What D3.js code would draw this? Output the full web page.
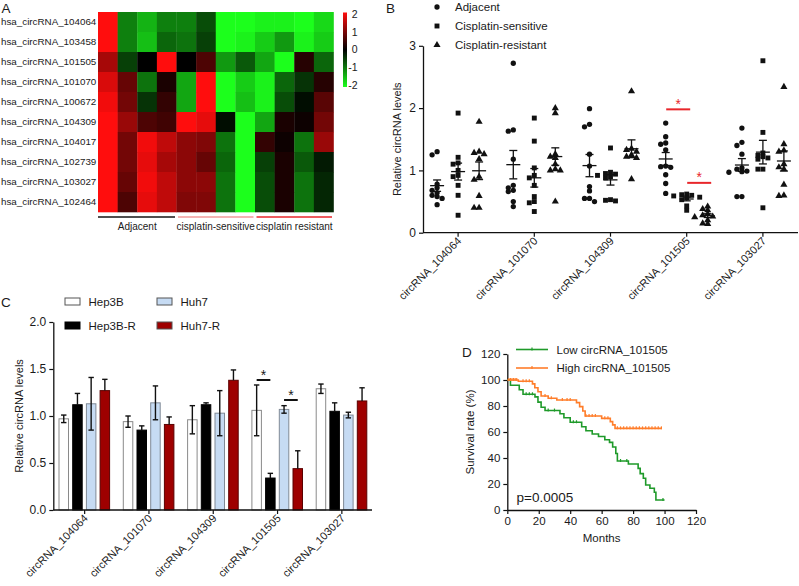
<!DOCTYPE html>
<html><head><meta charset="utf-8">
<script src="https://cdn.jsdelivr.net/npm/d3@7"></script>
<style>
body{margin:0;background:#fff}
svg{display:block}
text{font-family:"Liberation Sans",Arial,Helvetica,sans-serif;fill:#1a1a1a}
</style>
</head><body>
<svg id="c" width="799" height="586"></svg>
<script>
// ---------------- DATA ----------------
// Panel A heatmap
const heatRows = ["hsa_circRNA_104064","hsa_circRNA_103458","hsa_circRNA_101505","hsa_circRNA_101070","hsa_circRNA_100672","hsa_circRNA_104309","hsa_circRNA_104017","hsa_circRNA_102739","hsa_circRNA_103027","hsa_circRNA_102464"];
const heatGroups = ["Adjacent","cisplatin-sensitive","cisplatin resistant"];
const heatGroupSizes = [4,4,4];
const heatValues = [
  [2, -1.0, -1.4, -1.0, -1.0, -0.6, -2, -2, -1.9, -1.9, -2, -1.7],
  [2, -1.0, -1.5, -0.8, -0.9, -0.5, -2, -1.9, -1.6, -1.2, -1.9, -1.6],
  [1.3, -0.5, 0, 2, 0, 0.6, -1.2, -0.7, -1.3, -2, 0.3, -0.8],
  [1.7, 0.8, -0.9, 0.2, -1.3, 2, -2, -1.6, -1.9, -0.8, -0.4, 0.3],
  [1.9, 0.9, -0.4, 0.4, -1.3, 2, -2, -1.5, -1.9, -0.6, -0.1, 0.7],
  [2, 1.2, 0.6, 0.5, 2, 1.8, -0.1, -2, -1.3, 0.2, 0.1, 0.9],
  [2, 0.9, 1.9, 1.5, 1.1, 1.0, -0.9, -2, 0.4, 0.1, -0.9, 1.2],
  [2, 0.9, 1.8, 1.3, 1.1, 0.8, -0.8, -2, -0.5, 0.2, -0.7, -0.2],
  [2, 0.8, 1.9, 1.5, 1.1, 1.1, -0.9, -2, -0.6, 0.2, -0.9, -0.3],
  [2, 0.6, 1.8, 1.5, 1.0, 1.0, -0.9, -2, -0.6, 0.2, -0.9, -0.3]
];
const heatLegendTicks = [2,1,0,-1,-2];

// Panel B scatter
const bGroups = ["circRNA_104064","circRNA_101070","circRNA_104309","circRNA_101505","circRNA_103027"];
const bSeries = ["Adjacent","Cisplatin-sensitive","Cisplatin-resistant"];
const bAdjacent = [
  [1.30, 1.25, 0.78, 0.72, 0.68, 0.64, 0.60, 0.58, 0.55, 0.45],
  [2.72, 1.65, 1.63, 1.18, 0.76, 0.72, 0.68, 0.66, 0.50, 0.42],
  [1.99, 1.74, 1.70, 1.26, 1.07, 0.74, 0.67, 0.55, 0.55, 0.50],
  [1.76, 1.54, 1.44, 1.42, 1.33, 1.07, 1.06, 1.05, 0.93, 0.79, 0.63],
  [1.68, 1.45, 1.40, 1.26, 1.04, 1.02, 0.99, 0.98, 0.97, 0.58, 0.58]
];
const bSensitive = [
  [1.92, 1.21, 1.12, 1.10, 1.00, 0.92, 0.90, 0.76, 0.60, 0.28],
  [1.84, 1.47, 1.04, 0.92, 0.88, 0.76, 0.58, 0.50, 0.48, 0.34],
  [1.36, 0.97, 0.95, 0.94, 0.92, 0.90, 0.88, 0.53, 0.52, 0.51],
  [0.62, 0.61, 0.60, 0.59, 0.57, 0.56, 0.53, 0.43, 0.36],
  [2.76, 1.61, 1.28, 1.24, 1.22, 1.20, 1.18, 1.02, 1.02, 0.40]
];
const bResistant = [
  [1.78, 1.30, 1.28, 1.26, 1.18, 0.90, 0.85, 0.59, 0.40, 0.40],
  [2.00, 1.92, 1.26, 1.22, 1.20, 1.10, 1.02, 1.00, 1.00, 0.50],
  [2.27, 1.35, 1.33, 1.30, 1.25, 1.22, 1.20, 0.86],
  [0.42, 0.38, 0.36, 0.30, 0.28, 0.26, 0.25, 0.20, 0.15, 0.14],
  [2.34, 1.42, 1.32, 1.30, 1.10, 1.05, 1.02, 0.77, 0.60, 0.59]
];
const bTicks = [0,1,2,3];
const bSig = [ {group:"circRNA_101505", a:0, b:1, y:1.98}, {group:"circRNA_101505", a:1, b:2, y:0.80} ];

// Panel C bars
const cGroups = ["circRNA_104064","circRNA_101070","circRNA_104309","circRNA_101505","circRNA_103027"];
const cSeries = ["Hep3B","Hep3B-R","Huh7","Huh7-R"];
const cHep3B     = [0.97, 0.94, 0.96, 1.06, 1.29];
const cHep3BErr  = [0.04, 0.06, 0.15, 0.27, 0.05];
const cHep3BR    = [1.12, 0.85, 1.12, 0.34, 1.05];
const cHep3BRErr = [0.12, 0.045, 0.02, 0.05, 0.09];
const cHuh7      = [1.13, 1.14, 1.03, 1.07, 1.01];
const cHuh7Err   = [0.28, 0.18, 0.24, 0.04, 0.03];
const cHuh7R     = [1.27, 0.91, 1.38, 0.44, 1.16];
const cHuh7RErr  = [0.12, 0.08, 0.11, 0.19, 0.14];
const cTicks = [0, 0.5, 1.0, 1.5, 2.0];
const cSig = [ {group:"circRNA_101505", a:0, b:1, y:1.383}, {group:"circRNA_101505", a:2, b:3, y:1.17} ];

// Panel D Kaplan-Meier
const kmSeries = ["Low circRNA_101505","High circRNA_101505"];
const lowTimes = [0, 2, 7.6, 10, 17.6, 19.5, 21.5, 24, 33.5, 36, 40, 47.3, 50, 54, 58, 62, 65, 67, 69, 70, 77, 83.2, 84.5, 86.5, 88, 90.7, 93.5, 94.5];
const lowSurv  = [100, 96, 92.5, 89, 87, 83, 79, 76.5, 74, 71, 67.5, 64, 61, 58.5, 56.5, 54, 52, 48.5, 43.5, 37.7, 35.4, 32, 28, 24.4, 19.2, 16.7, 13.6, 7.7];
const lowEnd = 100;
const lowCensor = [12, 14, 16, 26, 30, 42, 44, 72, 76, 99];
const highTimes = [0, 7, 16, 17.5, 19.5, 21.5, 26, 31.5, 44, 46, 48, 49.5, 60, 65.5, 67, 68.5];
const highSurv  = [100, 99, 97, 94, 91, 87.7, 86, 84.6, 82.6, 79.5, 76.2, 72.3, 70.5, 68, 65.5, 62.8];
const highEnd = 98;
const highCensor = [1, 2, 3, 4, 5, 6, 10, 12, 14, 24, 28, 35, 38, 40, 50, 52, 54, 56, 62, 64, 70, 72, 74, 76, 78, 80, 82, 84, 86, 88, 90, 92, 94, 96, 98];
const kmTicks = [0,20,40,60,80,100,120];
const pText = "p=0.0005";

// ---------------- DRAW ----------------
const svg = d3.select("#c");

function panelLabel(t, x, y){
  svg.append("text").attr("x", x).attr("y", y).attr("font-size", 13.5).text(t);
}

// ===== Panel A =====
panelLabel("A", 1.5, 13);
const hx = d3.scaleBand().domain(d3.range(heatValues[0].length)).range([98, 333.5]);
const hy = d3.scaleBand().domain(heatRows).range([12, 212]);
const hcolor = d3.scaleLinear().domain([-2,0,2]).range(["#1cff1c","#000000","#ff0d0d"]).clamp(true);
const gA = svg.append("g");
heatRows.forEach((r, ri) => {
  gA.selectAll(null).data(heatValues[ri]).enter().append("rect")
    .attr("x", (d,i) => hx(i)).attr("y", hy(r))
    .attr("width", hx.bandwidth()+0.3).attr("height", hy.bandwidth()+0.3)
    .attr("fill", d => hcolor(d));
});
gA.selectAll(null).data(heatRows).enter().append("text")
  .attr("x", 1).attr("y", d => hy(d) + hy.bandwidth()/2)
  .attr("dy", "0.35em").attr("text-anchor", "start").attr("font-size", 9.8).text(d => d);
// group lines
const groupColors = ["#151515", "#f29a9a", "#e8262b"];
let start = 0;
heatGroups.forEach((g, gi) => {
  const x0 = hx(start), x1 = hx(start + heatGroupSizes[gi] - 1) + hx.bandwidth();
  gA.append("line").attr("x1", x0 + (gi ? 1.5 : 0)).attr("x2", x1 - 1.5).attr("y1", 217).attr("y2", 217)
    .attr("stroke", groupColors[gi]).attr("stroke-width", 1.6);
  gA.append("text").attr("x", (x0 + x1)/2).attr("y", 230).attr("text-anchor", "middle")
    .attr("font-size", 10).text(g);
  start += heatGroupSizes[gi];
});
// color legend
const defs = svg.append("defs");
const grad = defs.append("linearGradient").attr("id", "hg").attr("x1", 0).attr("x2", 0).attr("y1", 0).attr("y2", 1);
grad.append("stop").attr("offset", "0%").attr("stop-color", hcolor(2));
grad.append("stop").attr("offset", "50%").attr("stop-color", hcolor(0));
grad.append("stop").attr("offset", "100%").attr("stop-color", hcolor(-2));
const ly = d3.scaleLinear().domain([2,-2]).range([14, 85.5]);
gA.append("rect").attr("x", 343).attr("y", 12.5).attr("width", 4).attr("height", 74.5).attr("fill", "url(#hg)");
gA.selectAll(null).data(heatLegendTicks).enter().append("text")
  .attr("x", 357.5).attr("y", d => ly(d)).attr("dy", "0.35em").attr("text-anchor", "end")
  .attr("font-size", 10.5).text(d => d);

// ===== Panel B =====
panelLabel("B", 386, 13);
const bx = d3.scaleBand().domain(bGroups).range([420, 801]);
const bs = d3.scalePoint().domain(d3.range(3)).range([-21, 21]);
const by = d3.scaleLinear().domain([0, 3]).range([232.7, 45.8]);
const gB = svg.append("g");
const yAxB = gB.append("g").attr("transform", "translate(423,0)")
  .call(d3.axisLeft(by).tickValues(bTicks).tickFormat(d3.format("d")).tickSize(4).tickSizeOuter(0));
function styleAxis(g, fs){
  g.selectAll("path").attr("stroke", "#111").attr("stroke-width", 1.3);
  g.selectAll("line").attr("stroke", "#111").attr("stroke-width", 1.2);
  g.selectAll("text").attr("font-size", fs || 11.5).attr("fill", "#1a1a1a")
    .attr("font-family", '"Liberation Sans",Arial,sans-serif');
}
styleAxis(yAxB, 12);
gB.append("line").attr("x1", 423).attr("x2", 798).attr("y1", by(0)).attr("y2", by(0)).attr("stroke", "#111").attr("stroke-width", 1.3);
bGroups.forEach(g => {
  const x = bx(g) + bx.bandwidth()/2;
  gB.append("line").attr("x1", x).attr("x2", x).attr("y1", by(0)).attr("y2", by(0)+4).attr("stroke", "#111").attr("stroke-width", 1.2);
  gB.append("text").attr("transform", `translate(${x+4},${by(0)+9}) rotate(-45)`)
    .attr("text-anchor", "end").attr("font-size", 11).text(g);
});
gB.append("text").attr("transform", `translate(401,${(by(0)+by(3))/2}) rotate(-90)`)
  .attr("text-anchor", "middle").attr("font-size", 11).text("Relative circRNA levels");

const symbols = [d3.symbolCircle, d3.symbolSquare, d3.symbolTriangle];
const symSizes = [22, 24, 22];
const bData = [bAdjacent, bSensitive, bResistant];
function beeswarm(vals, yScale){
  const placed = [];
  const sorted = vals.map((v,i)=>({v,i})).sort((a,b)=>b.v-a.v);
  const offs = [0, -5, 5, -9, 9, -13, 13];
  sorted.forEach(p => {
    const py = yScale(p.v);
    for (const o of offs){
      if (!placed.some(q => Math.abs(q.y - py) < 3.6 && Math.abs(q.o - o) < 4.5)) { placed.push({y:py, o, v:p.v}); break; }
    }
  });
  return placed;
}
bGroups.forEach((g, gi) => {
  bData.forEach((series, si) => {
    const vals = series[gi];
    const cx = bx(g) + bx.bandwidth()/2 + bs(si);
    const pts = beeswarm(vals, by);
    gB.selectAll(null).data(pts).enter().append("path")
      .attr("d", d3.symbol().type(symbols[si]).size(symSizes[si]))
      .attr("transform", d => `translate(${cx + d.o},${d.y})`).attr("fill", "#111");
    const m = d3.mean(vals), sem = d3.deviation(vals) / Math.sqrt(vals.length);
    gB.append("line").attr("x1", cx-7).attr("x2", cx+7).attr("y1", by(m)).attr("y2", by(m)).attr("stroke", "#111").attr("stroke-width", 1.3);
    gB.append("line").attr("x1", cx).attr("x2", cx).attr("y1", by(m-sem)).attr("y2", by(m+sem)).attr("stroke", "#111").attr("stroke-width", 1.3);
    [m-sem, m+sem].forEach(v => gB.append("line").attr("x1", cx-4).attr("x2", cx+4).attr("y1", by(v)).attr("y2", by(v)).attr("stroke", "#111").attr("stroke-width", 1.3));
  });
});
bSig.forEach(s => {
  const base = bx(s.group) + bx.bandwidth()/2;
  const mid = base + (bs(s.a) + bs(s.b))/2 + 2;
  gB.append("line").attr("x1", mid-12).attr("x2", mid+12).attr("y1", by(s.y)).attr("y2", by(s.y)).attr("stroke", "#e8262b").attr("stroke-width", 2);
  gB.append("text").attr("x", mid).attr("y", by(s.y) - 0.5).attr("text-anchor", "middle").attr("font-size", 14).style("fill", "#e8262b").text("*");
});
// legend B
bSeries.forEach((s, si) => {
  const y = 7 + si*19;
  gB.append("path").attr("d", d3.symbol().type(symbols[si]).size(symSizes[si]))
    .attr("transform", `translate(437,${y})`).attr("fill", "#111");
  gB.append("text").attr("x", 455).attr("y", y).attr("dy", "0.35em").attr("font-size", 11.5).text(s);
});

// ===== Panel C =====
panelLabel("C", 1, 307);
const cx0 = d3.scaleBand().domain(cGroups).range([52.5, 374]);
const cx1 = d3.scaleBand().domain(cSeries).range([6.5, 57.1]).paddingInner(0.307).paddingOuter(0);
const cy = d3.scaleLinear().domain([0, 2]).range([510, 322]);
const cVals = [cHep3B, cHep3BR, cHuh7, cHuh7R];
const cErrs = [cHep3BErr, cHep3BRErr, cHuh7Err, cHuh7RErr];
const cFill = ["#ffffff", "#000000", "#c6dbf3", "#9e0000"];
const cStroke = ["#8a8a8a", "#000000", "#808a96", "#5a0000"];
const cErrBelow = [true, false, true, false];
const gC = svg.append("g");
const yAxC = gC.append("g").attr("transform", "translate(53.3,0)")
  .call(d3.axisLeft(cy).tickValues(cTicks).tickFormat(d3.format(".1f")).tickSize(4).tickSizeOuter(0));
styleAxis(yAxC, 12);
cGroups.forEach((g, gi) => {
  cSeries.forEach((s, si) => {
    const x = cx0(g) + cx1(s), w = cx1.bandwidth(), v = cVals[si][gi], e = cErrs[si][gi];
    const xc = x + w/2;
    gC.append("rect").attr("x", x).attr("y", cy(v)).attr("width", w).attr("height", cy(0) - cy(v))
      .attr("fill", cFill[si]).attr("stroke", cStroke[si]).attr("stroke-width", 1);
    const lo = cErrBelow[si] ? v - e : v;
    gC.append("line").attr("x1", xc).attr("x2", xc).attr("y1", cy(lo)).attr("y2", cy(v+e)).attr("stroke", "#111").attr("stroke-width", 1.4);
    gC.append("line").attr("x1", xc-2.7).attr("x2", xc+2.7).attr("y1", cy(v+e)).attr("y2", cy(v+e)).attr("stroke", "#111").attr("stroke-width", 1.4);
    if (cErrBelow[si]) gC.append("line").attr("x1", xc-2.7).attr("x2", xc+2.7).attr("y1", cy(v-e)).attr("y2", cy(v-e)).attr("stroke", "#111").attr("stroke-width", 1.4);
  });
  const x = cx0(g) + cx0.bandwidth()/2;
  gC.append("line").attr("x1", x).attr("x2", x).attr("y1", cy(0)).attr("y2", cy(0)+4).attr("stroke", "#111").attr("stroke-width", 1.2);
  gC.append("text").attr("transform", `translate(${x+4},${cy(0)+9}) rotate(-45)`)
    .attr("text-anchor", "end").attr("font-size", 11).text(g);
});
gC.append("line").attr("x1", 53.3).attr("x2", 372).attr("y1", cy(0)).attr("y2", cy(0)).attr("stroke", "#111").attr("stroke-width", 1.3);
gC.append("text").attr("transform", `translate(23,${(cy(0)+cy(2))/2}) rotate(-90)`)
  .attr("text-anchor", "middle").attr("font-size", 11).text("Relative circRNA levels");
cSig.forEach(s => {
  const xa = cx0(s.group) + cx1(cSeries[s.a]) + cx1.bandwidth()/2;
  const xb = cx0(s.group) + cx1(cSeries[s.b]) + cx1.bandwidth()/2;
  gC.append("line").attr("x1", xa).attr("x2", xb).attr("y1", cy(s.y)).attr("y2", cy(s.y)).attr("stroke", "#111").attr("stroke-width", 2);
  gC.append("text").attr("x", (xa+xb)/2).attr("y", cy(s.y)).attr("text-anchor", "middle").attr("font-size", 14).text("*");
});
// legend C
cSeries.forEach((s, si) => {
  const col = si < 2 ? 0 : 1, row = si % 2;
  const x = col ? 157 : 65, y = row ? 325.5 : 301.5;
  gC.append("rect").attr("x", x).attr("y", y-3.5).attr("width", 15).attr("height", 7)
    .attr("fill", cFill[si]).attr("stroke", cStroke[si] === "#000000" ? "#000" : "#555").attr("stroke-width", 1);
  gC.append("text").attr("x", x + 23.5).attr("y", y).attr("dy", "0.35em").attr("font-size", 11.5).text(s);
});

// ===== Panel D =====
panelLabel("D", 462, 357);
const dx = d3.scaleLinear().domain([0, 120]).range([507.3, 696]);
const dy = d3.scaleLinear().domain([0, 120]).range([510, 354]);
const gD = svg.append("g");
const xAxD = gD.append("g").attr("transform", `translate(0,${dy(0)})`)
  .call(d3.axisBottom(dx).tickValues(kmTicks).tickSize(4).tickSizeOuter(0));
styleAxis(xAxD, 11.5);
const yAxD = gD.append("g").attr("transform", `translate(${dx(0)},0)`)
  .call(d3.axisLeft(dy).tickValues(kmTicks).tickSize(4).tickSizeOuter(0));
styleAxis(yAxD, 11.5);
gD.append("text").attr("x", dx(60)).attr("y", 542).attr("text-anchor", "middle").attr("font-size", 11.5).text("Months");
gD.append("text").attr("transform", `translate(474,${(dy(0)+dy(120))/2}) rotate(-90)`)
  .attr("text-anchor", "middle").attr("font-size", 11.5).text("Survival rate (%)");
const kmColors = ["#1f9a2a", "#ff7d2a"];
function stepPts(times, surv, end){
  const pts = times.map((t,i)=>[t, surv[i]]);
  pts.push([end, surv[surv.length-1]]);
  return pts;
}
function survAt(times, surv, t){
  let s = surv[0];
  for (let i=0;i<times.length;i++){ if (times[i] <= t) s = surv[i]; }
  return s;
}
const kmLine = d3.line().x(d => dx(d[0])).y(d => dy(d[1])).curve(d3.curveStepAfter);
const kmData = [
  {t: lowTimes, s: lowSurv, end: lowEnd, c: lowCensor},
  {t: highTimes, s: highSurv, end: highEnd, c: highCensor}
];
kmData.forEach((k, ki) => {
  gD.append("path").attr("d", kmLine(stepPts(k.t, k.s, k.end))).attr("fill", "none")
    .attr("stroke", kmColors[ki]).attr("stroke-width", 1.6);
  gD.selectAll(null).data(k.c).enter().append("line")
    .attr("x1", d => dx(d)).attr("x2", d => dx(d))
    .attr("y1", d => dy(survAt(k.t, k.s, d)) - 2).attr("y2", d => dy(survAt(k.t, k.s, d)) + 1)
    .attr("stroke", kmColors[ki]).attr("stroke-width", 1.2);
});
kmSeries.forEach((s, si) => {
  const y = 349.5 + si*18.5;
  gD.append("line").attr("x1", 516).attr("x2", 548).attr("y1", y).attr("y2", y).attr("stroke", kmColors[si]).attr("stroke-width", 1.6);
  gD.append("line").attr("x1", 532).attr("x2", 532).attr("y1", y-2).attr("y2", y+1).attr("stroke", kmColors[si]).attr("stroke-width", 1.2);
  gD.append("text").attr("x", 556.5).attr("y", y).attr("dy", "0.35em").attr("font-size", 11.5).text(s);
});
gD.append("text").attr("x", 516.5).attr("y", 502).attr("font-size", 13.5).text(pText);
</script>
</body></html>
